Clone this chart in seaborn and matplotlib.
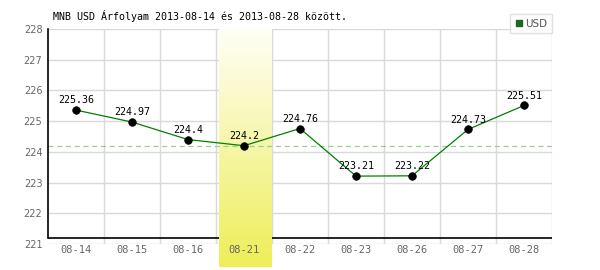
import numpy as np
import pandas as pd
import matplotlib
matplotlib.use("Agg")
import matplotlib.pyplot as plt
from matplotlib.colors import LinearSegmentedColormap
from matplotlib.lines import Line2D
import seaborn as sns

# ---- data ----
dates = ["08-14", "08-15", "08-16", "08-21", "08-22", "08-23", "08-26", "08-27", "08-28"]
usd_rates = [225.36, 224.97, 224.4, 224.2, 224.76, 223.21, 223.22, 224.73, 225.51]
highlight_date = "08-21"
reference_rate = 224.2
y_ticks = [221, 222, 223, 224, 225, 226, 227, 228]
title_text = "MNB USD Árfolyam 2013-08-14 és 2013-08-28 között."
legend_label = "USD"

sns.set_theme(style="white")
plt.rcParams['font.family'] = ['DejaVu Sans']

df = pd.DataFrame({"pos": np.arange(len(dates)), "date": dates, "rate": usd_rates})

fig = plt.figure(figsize=(6, 2.7), dpi=100)
ax = fig.add_axes([48 / 600, 1 - 244 / 270, (552 - 48) / 600, (244 - 29) / 270])
ax.set_axisbelow(False)

x_lo, x_hi = -0.5, len(dates) - 0.5
y_lo, y_hi = y_ticks[0], y_ticks[-1]

grid_c = "#d9d9d9"
# manual grid (below highlight band)
for yv in y_ticks:
    ax.axhline(yv, color=grid_c, lw=1.0, zorder=0.5)
for xv in np.arange(0.5, len(dates), 1.0):
    ax.axvline(xv, color=grid_c, lw=1.0, zorder=0.5)

# black base line
axis_line_val = 221.19
ax.axhline(axis_line_val, color="black", lw=1.2, zorder=1.0)

# highlight band gradient
hi = dates.index(highlight_date)
cmap = LinearSegmentedColormap.from_list("band", ["#fffff6", "#f6f6a8", "#eeee58"])
grad = np.linspace(0, 1, 256).reshape(-1, 1)
ax.imshow(grad, cmap=cmap, aspect="auto", origin="upper",
          extent=(hi - 0.45, hi + 0.48, 220.25, y_hi), zorder=1.2, clip_on=False)

# reference dashed line
ax.axhline(reference_rate, color="#99cc99", lw=0.9, ls=(0, (4, 3)), zorder=1.5)

# data line + markers
sns.lineplot(data=df, x="pos", y="rate", color="#008000", lw=0.9, ax=ax, zorder=3)
sns.scatterplot(data=df, x="pos", y="rate", color="black", s=30, edgecolor="black",
                linewidth=0.5, ax=ax, zorder=4)

for xi, v in zip(df["pos"], df["rate"]):
    ax.annotate(f"{v:g}", (xi, v), xytext=(0, 3.5), textcoords="offset points",
                ha="center", va="bottom", fontsize=7.2, family="DejaVu Sans Mono",
                color="black", zorder=5)

ax.set_xlim(x_lo, x_hi)
ax.set_ylim(y_lo, y_hi)
ax.set_xticks(df["pos"])
ax.set_xticklabels(dates, family="DejaVu Sans Mono", fontsize=7.5, color="#666666")
ax.set_yticks(y_ticks)
ax.set_yticklabels([str(t) for t in y_ticks], fontsize=7, color="#666666")
ax.tick_params(axis="x", length=0, pad=0.8)
ax.tick_params(axis="y", length=0, pad=4)
ax.set_xlabel("")
ax.set_ylabel("")

for s in ["top", "right", "bottom"]:
    ax.spines[s].set_visible(False)
ax.spines["left"].set_color("black")
ax.spines["left"].set_linewidth(1.2)
ax.spines["left"].set_bounds(axis_line_val, y_hi)

fig.text(53 / 600, 1 - 16 / 270, title_text, family="DejaVu Sans Mono", fontsize=7.2,
         color="black", ha="left", va="center")

handle = Line2D([], [], marker="s", color="#008000", markeredgecolor="#335533",
                markersize=5, lw=0)
leg = fig.legend([handle], [legend_label], loc="upper right",
                 bbox_to_anchor=(552 / 600, 1 - 14 / 270), frameon=True, fancybox=False,
                 fontsize=7.5, handlelength=0.8, handletextpad=0.2, borderpad=0.45,
                 borderaxespad=0)
leg.get_frame().set_edgecolor("#d9d9d9")
leg.get_frame().set_linewidth(1.0)
for t in leg.get_texts():
    t.set_color("#555555")

fig.savefig("out.png", dpi=100)
